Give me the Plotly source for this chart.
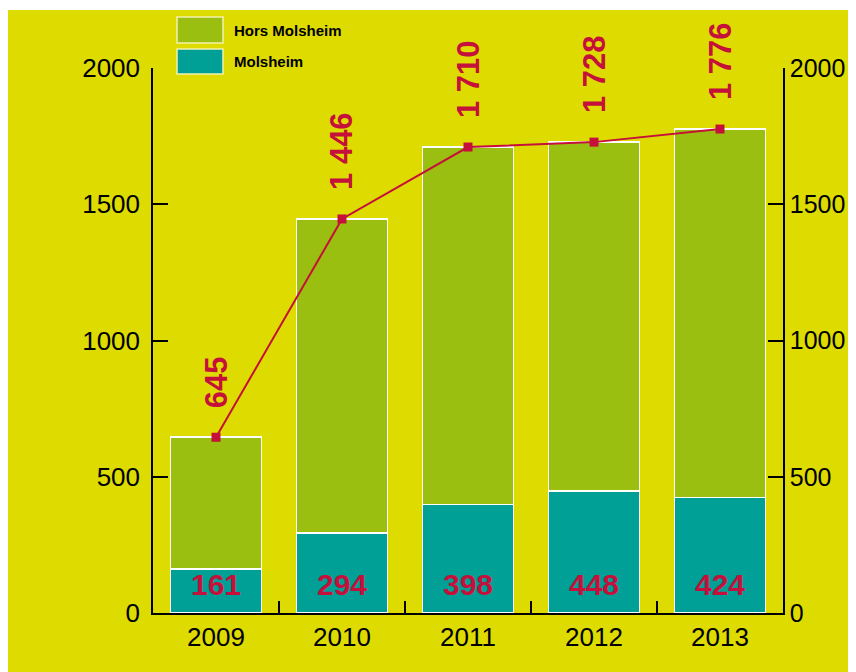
import plotly.graph_objects as go

years = ["2009", "2010", "2011", "2012", "2013"]
molsheim = [161, 294, 398, 448, 424]
hors_molsheim = [484, 1152, 1312, 1280, 1352]
totals = [645, 1446, 1710, 1728, 1776]
total_labels = ["645", "1 446", "1 710", "1 728", "1 776"]
molsheim_labels = ["161", "294", "398", "448", "424"]
y_ticks = [0, 500, 1000, 1500, 2000]

YELLOW = "#DEDB00"
GREEN = "#9BBF10"
TEAL = "#00A096"
RED = "#C4103A"
FONT = "Liberation Sans"

# page body has an 8px margin; work in reference-window pixels and shift
OFF = 8
W, H = 856 - OFF, 672 - OFF
L, R, T, B = 153 - OFF, 783 - OFF, 68 - OFF, 613 - OFF


def px(x):
    return (x - OFF - L) / (R - L)


def py(y):
    return (B - (y - OFF)) / (B - T)


fig = go.Figure()
fig.add_trace(go.Bar(x=years, y=molsheim, name="Molsheim", marker=dict(color=TEAL, line=dict(color="white", width=1.5)), showlegend=False))
fig.add_trace(go.Bar(x=years, y=hors_molsheim, name="Hors Molsheim", marker=dict(color=GREEN, line=dict(color="white", width=1.5)), showlegend=False))
fig.add_trace(go.Scatter(x=years, y=totals, mode="lines+markers", line=dict(color=RED, width=2),
                         marker=dict(symbol="square", size=9, color=RED), showlegend=False))
# invisible trace for right axis
fig.add_trace(go.Scatter(x=years, y=totals, yaxis="y2", mode="none", showlegend=False, hoverinfo="skip"))

annotations = []
for i, (t, lab) in enumerate(zip(totals, total_labels)):
    annotations.append(dict(x=i, y=t, text=lab, textangle=-90, showarrow=False, xanchor="center", yanchor="bottom",
                            yshift=27, font=dict(family=FONT, size=31, color=RED, weight="bold")))
for i, lab in enumerate(molsheim_labels):
    annotations.append(dict(x=i, y=103, text=lab, showarrow=False, xanchor="center", yanchor="middle",
                            font=dict(family=FONT, size=30, color=RED, weight="bold")))

# manual legend
legend_items = [("Hors Molsheim", GREEN, 17, 43), ("Molsheim", TEAL, 49, 74)]
shapes = [dict(type="rect", xref="paper", yref="paper", x0=px(8), x1=px(860), y0=py(676), y1=py(10),
               fillcolor=YELLOW, line=dict(width=0), layer="below")]
for name, col, y0, y1 in legend_items:
    shapes.append(dict(type="rect", xref="paper", yref="paper", x0=px(177), x1=px(223), y0=py(y1), y1=py(y0),
                       fillcolor=col, line=dict(color="#F4F0B0", width=1.5)))
    annotations.append(dict(xref="paper", yref="paper", x=px(232), y=py((y0 + y1) / 2), text=name, showarrow=False,
                            xanchor="left", yanchor="middle", font=dict(family=FONT, size=15, color="black", weight="bold")))

axis_common = dict(range=[0, 2000], tickvals=y_ticks, ticks="inside", ticklen=15, tickwidth=1.5, tickcolor="black",
                   showline=True, linecolor="black", linewidth=1.5, showgrid=False, zeroline=False, automargin=False)

fig.update_layout(
    width=W, height=H,
    margin=dict(l=L, r=W - R, t=T, b=H - B),
    paper_bgcolor="white", plot_bgcolor="rgba(0,0,0,0)",
    barmode="stack", bargap=0.28,
    xaxis=dict(type="category", ticks="inside", tickson="boundaries", ticklen=12, tickwidth=1.5, tickcolor="black",
               showline=True, linecolor="black", linewidth=1.5, showgrid=False, automargin=False, tickangle=0,
               tickfont=dict(family=FONT, size=26, color="black")),
    yaxis=dict(side="left", ticklabelstandoff=6, tickfont=dict(family=FONT, size=26, color="black"), **axis_common),
    yaxis2=dict(side="right", overlaying="y", ticklabelstandoff=0, tickfont=dict(family=FONT, size=25, color="black"),
                **axis_common),
    shapes=shapes, annotations=annotations,
)

fig.write_html("out.html")
